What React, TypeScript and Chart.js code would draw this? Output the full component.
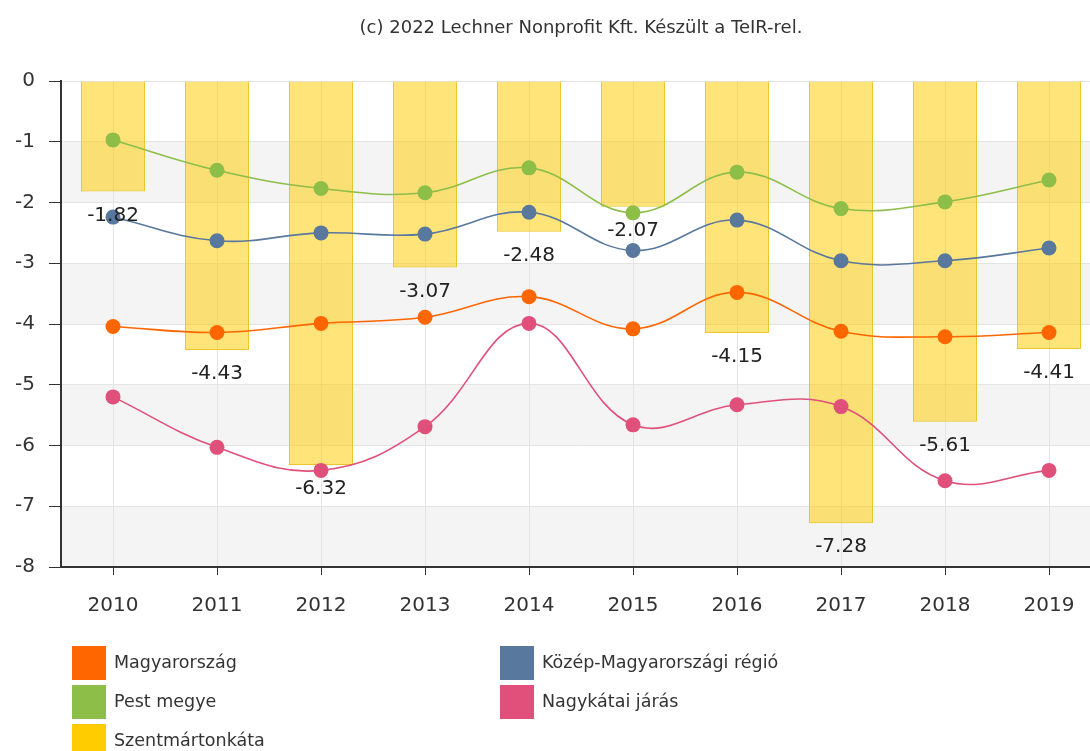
import React, { useEffect, useRef } from "react";
import { Chart, registerables } from "chart.js";

Chart.register(...registerables);

const years = ["2010", "2011", "2012", "2013", "2014", "2015", "2016", "2017", "2018", "2019"];
const magyarorszag = [-4.04, -4.14, -3.99, -3.89, -3.55, -4.08, -3.48, -4.12, -4.21, -4.14];
const kozepMagyarorszag = [-2.24, -2.63, -2.5, -2.52, -2.16, -2.79, -2.29, -2.96, -2.96, -2.75];
const pestMegye = [-0.97, -1.47, -1.77, -1.84, -1.43, -2.17, -1.5, -2.1, -1.99, -1.63];
const nagykatai = [-5.2, -6.03, -6.41, -5.69, -3.99, -5.66, -5.33, -5.36, -6.58, -6.41];
const szentmartonkata = [-1.82, -4.43, -6.32, -3.07, -2.48, -2.07, -4.15, -7.28, -5.61, -4.41];

const titleText = "(c) 2022 Lechner Nonprofit Kft. Készült a TeIR-rel.";
const FONT = "'DejaVu Sans', Verdana, sans-serif";

const COLORS = {
  orange: "rgb(255,102,0)",
  blue: "rgb(88,120,158)",
  green: "rgb(140,190,72)",
  pink: "rgb(224,80,122)",
  yellow: "rgb(255,204,0)",
};

const bandsPlugin = {
  id: "bands",
  beforeDraw(chart: any) {
    const { ctx, chartArea, scales } = chart;
    const y = scales.y;
    ctx.save();
    for (let v = -1; v > -8; v -= 2) {
      const top = y.getPixelForValue(v);
      const bottom = y.getPixelForValue(v - 1);
      ctx.fillStyle = "#f4f4f4";
      ctx.fillRect(chartArea.left, top, chartArea.right - chartArea.left, bottom - top);
    }
    ctx.restore();
  },
};

const titlePlugin = {
  id: "topTitle",
  afterDraw(chart: any) {
    const { ctx, chartArea } = chart;
    ctx.save();
    ctx.font = `18px ${FONT}`;
    ctx.fillStyle = "#333";
    ctx.textAlign = "center";
    ctx.textBaseline = "middle";
    ctx.fillText(titleText, (chartArea.left + chartArea.right) / 2, 28);
    ctx.restore();
  },
};

const barLabelPlugin = {
  id: "barLabels",
  afterDatasetsDraw(chart: any) {
    const { ctx } = chart;
    chart.data.datasets.forEach((ds: any, i: number) => {
      if (ds.type !== "bar") return;
      const meta = chart.getDatasetMeta(i);
      ctx.save();
      ctx.font = `20px ${FONT}`;
      ctx.fillStyle = "#222";
      ctx.textAlign = "center";
      ctx.textBaseline = "middle";
      meta.data.forEach((el: any, j: number) => {
        ctx.fillText(ds.data[j].toFixed(2), el.x, el.y + 24);
      });
      ctx.restore();
    });
  },
};

const legendPlugin = {
  id: "customLegend",
  afterDraw(chart: any) {
    const { ctx } = chart;
    const cols = [72, 500];
    const rows = [646, 685, 724];
    ctx.save();
    ctx.font = `17.5px ${FONT}`;
    ctx.textAlign = "left";
    ctx.textBaseline = "middle";
    chart.data.datasets.forEach((ds: any, i: number) => {
      const x = cols[i % 2];
      const y = rows[Math.floor(i / 2)];
      ctx.fillStyle = ds.legendColor;
      ctx.fillRect(x, y, 34, 34);
      ctx.fillStyle = "#333";
      ctx.fillText(ds.label, x + 42, y + 17);
    });
    ctx.restore();
  },
};

function lineDs(label: string, data: number[], color: string) {
  return {
    type: "line" as const,
    label,
    data,
    borderColor: color,
    backgroundColor: color,
    pointBackgroundColor: color,
    pointBorderColor: color,
    pointRadius: 7.5,
    pointBorderWidth: 0,
    borderWidth: 1.6,
    tension: 0.4,
    fill: false,
    order: 1,
    legendColor: color,
  };
}

export default function App() {
  const ref = useRef<HTMLCanvasElement>(null);
  useEffect(() => {
    if (!ref.current) return;
    const chart = new Chart(ref.current, {
      type: "bar",
      data: {
        labels: years,
        datasets: [
          lineDs("Magyarország", magyarorszag, COLORS.orange),
          lineDs("Közép-Magyarországi régió", kozepMagyarorszag, COLORS.blue),
          lineDs("Pest megye", pestMegye, COLORS.green),
          lineDs("Nagykátai járás", nagykatai, COLORS.pink),
          {
            type: "bar" as const,
            label: "Szentmártonkáta",
            data: szentmartonkata,
            backgroundColor: "rgba(255,204,0,0.52)",
            borderColor: "rgba(232,188,0,0.85)",
            borderWidth: 1,
            barPercentage: 0.615,
            categoryPercentage: 1,
            order: 10,
            legendColor: COLORS.yellow,
          } as any,
        ],
      },
      options: {
        responsive: false,
        animation: false,
        layout: { padding: { left: 0, right: 9, top: 81, bottom: 0 } },
        plugins: {
          legend: { display: false },
          title: { display: false },
          tooltip: { enabled: false },
        },
        scales: {
          x: {
            offset: true,
            grid: {
              offset: false,
              color: "#e4e4e4",
              tickColor: "#333",
              tickLength: 8,
              lineWidth: 1,
            },
            border: { color: "#333", width: 2 },
            ticks: {
              font: { family: FONT, size: 20 },
              color: "#333",
              padding: 19,
              maxRotation: 0,
            },
            afterFit(scale: any) {
              scale.height = 184;
            },
          },
          y: {
            min: -8,
            max: 0,
            grid: {
              color: "#e4e4e4",
              tickColor: "#333",
              tickLength: 12,
            },
            border: { color: "#333", width: 2 },
            ticks: {
              stepSize: 1,
              font: { family: FONT, size: 20 },
              color: "#333",
              padding: 14,
            },
            afterFit(scale: any) {
              scale.width = 61;
            },
          },
        },
      },
      plugins: [bandsPlugin, titlePlugin, barLabelPlugin, legendPlugin],
    } as any);
    return () => chart.destroy();
  }, []);
  return (
    <div
      style={{
        position: "fixed",
        left: 0,
        top: 0,
        width: 1090,
        height: 751,
        overflow: "hidden",
        background: "#fff",
      }}
    >
      <canvas ref={ref} width={1110} height={751} style={{ display: "block" }} />
    </div>
  );
}
